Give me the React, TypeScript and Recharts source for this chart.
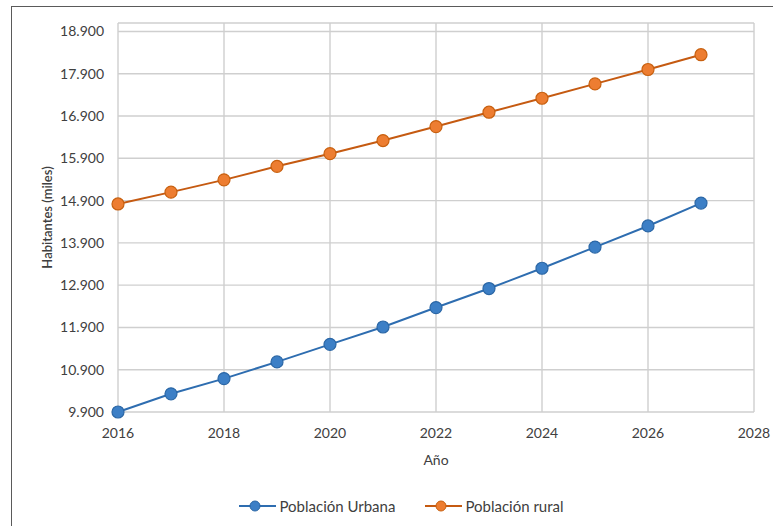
import React from 'react';
import { LineChart, Line, XAxis, YAxis, CartesianGrid, Legend } from 'recharts';

const years = [2016, 2017, 2018, 2019, 2020, 2021, 2022, 2023, 2024, 2025, 2026, 2027];
const urbana = [9900, 10330, 10690, 11085, 11500, 11910, 12370, 12820, 13300, 13800, 14300, 14840];
const rural = [14820, 15100, 15390, 15710, 16010, 16320, 16650, 16990, 17320, 17660, 18000, 18350];
const xTicks = [2016, 2018, 2020, 2022, 2024, 2026, 2028];
const yTicks = [9900, 10900, 11900, 12900, 13900, 14900, 15900, 16900, 17900, 18900];
const seriesNames = ['Población Urbana', 'Población rural'];
const xTitle = 'Año';
const yTitle = 'Habitantes (miles)';

const data = years.map((y, i) => ({ year: y, urbana: urbana[i], rural: rural[i] }));

const FONT = 'Lato, "Liberation Sans", sans-serif';
const TEXT = '#404040';
const BLUE_LINE = '#2e6db0';
const BLUE_DOT = '#3c7fc6';
const BLUE_DOT_STROKE = '#2b67a6';
const ORANGE_LINE = '#c55a11';
const ORANGE_DOT = '#ed7d31';
const ORANGE_DOT_STROKE = '#c8600f';

const fmt = (v: number) => {
  const s = String(Math.round(v));
  return s.replace(/\B(?=(\d{3})+(?!\d))/g, '.');
};

const LegendContent = () => {
  const items = [
    { name: seriesNames[0], line: BLUE_LINE, dot: BLUE_DOT, stroke: BLUE_DOT_STROKE },
    { name: seriesNames[1], line: ORANGE_LINE, dot: ORANGE_DOT, stroke: ORANGE_DOT_STROKE },
  ];
  return (
    <div style={{ display: 'flex', justifyContent: 'center', alignItems: 'center', gap: 30, fontFamily: FONT, fontSize: 15, color: TEXT, paddingLeft: 30 }}>
      {items.map((it) => (
        <div key={it.name} style={{ display: 'flex', alignItems: 'center' }}>
          <svg width={37} height={14} style={{ marginRight: 3 }}>
            <line x1={0} y1={7} x2={37} y2={7} stroke={it.line} strokeWidth={2} />
            <circle cx={16} cy={7} r={5} fill={it.dot} stroke={it.stroke} strokeWidth={1} />
          </svg>
          <span>{it.name}</span>
        </div>
      ))}
    </div>
  );
};

export default function App() {
  return (
    <div style={{ position: 'absolute', left: 0, top: 0, width: 773, height: 526, overflow: 'hidden', background: '#fff' }}>
      <div style={{ position: 'absolute', left: 11, top: 6, width: 900, height: 700, borderLeft: '1.3px solid #5a5a5a', borderTop: '1.3px solid #5a5a5a' }} />
      <div style={{ position: 'absolute', left: 0, top: 0 }}>
        <LineChart width={773} height={526} data={data} margin={{ top: 23, right: 19, left: 0, bottom: 10 }}>
          <CartesianGrid stroke="#cfcfcf" strokeWidth={1.4} />
          <XAxis
            dataKey="year"
            type="number"
            domain={[2016, 2028]}
            ticks={xTicks}
            interval={0}
            height={64}
            axisLine={false}
            tickLine={false}
            tickSize={0}
            tickMargin={16}
            tick={{ fill: TEXT, fontSize: 14, fontFamily: FONT }}
            label={(props: any) => {
              const vb = props.viewBox;
              return (
                <text x={vb.x + vb.width / 2} y={vb.y + 53} textAnchor="middle" fill={TEXT} fontSize={14} fontFamily={FONT}>
                  {xTitle}
                </text>
              );
            }}
          />
          <YAxis
            type="number"
            domain={[9900, 19100]}
            ticks={yTicks}
            interval={0}
            width={118}
            axisLine={false}
            tickLine={false}
            tickSize={0}
            tickMargin={14}
            tickFormatter={fmt}
            tick={{ fill: TEXT, fontSize: 14, fontFamily: FONT }}
            label={(props: any) => {
              const vb = props.viewBox;
              const cx = 49;
              const cy = vb.y + vb.height / 2;
              return (
                <text x={cx} y={cy} transform={`rotate(-90 ${cx} ${cy})`} textAnchor="middle" dominantBaseline="middle" fill={TEXT} fontSize={13} fontWeight={600} fontFamily={FONT}>
                  {yTitle}
                </text>
              );
            }}
          />
          <Legend verticalAlign="bottom" height={40} content={<LegendContent />} wrapperStyle={{ top: 497, left: 0, width: 773 }} />
          <Line
            type="linear"
            dataKey="urbana"
            name={seriesNames[0]}
            stroke={BLUE_LINE}
            strokeWidth={2}
            dot={{ r: 6, fill: BLUE_DOT, stroke: BLUE_DOT_STROKE, strokeWidth: 1.2 }}
            isAnimationActive={false}
          />
          <Line
            type="linear"
            dataKey="rural"
            name={seriesNames[1]}
            stroke={ORANGE_LINE}
            strokeWidth={2}
            dot={{ r: 6, fill: ORANGE_DOT, stroke: ORANGE_DOT_STROKE, strokeWidth: 1.2 }}
            isAnimationActive={false}
          />
        </LineChart>
      </div>
    </div>
  );
}
